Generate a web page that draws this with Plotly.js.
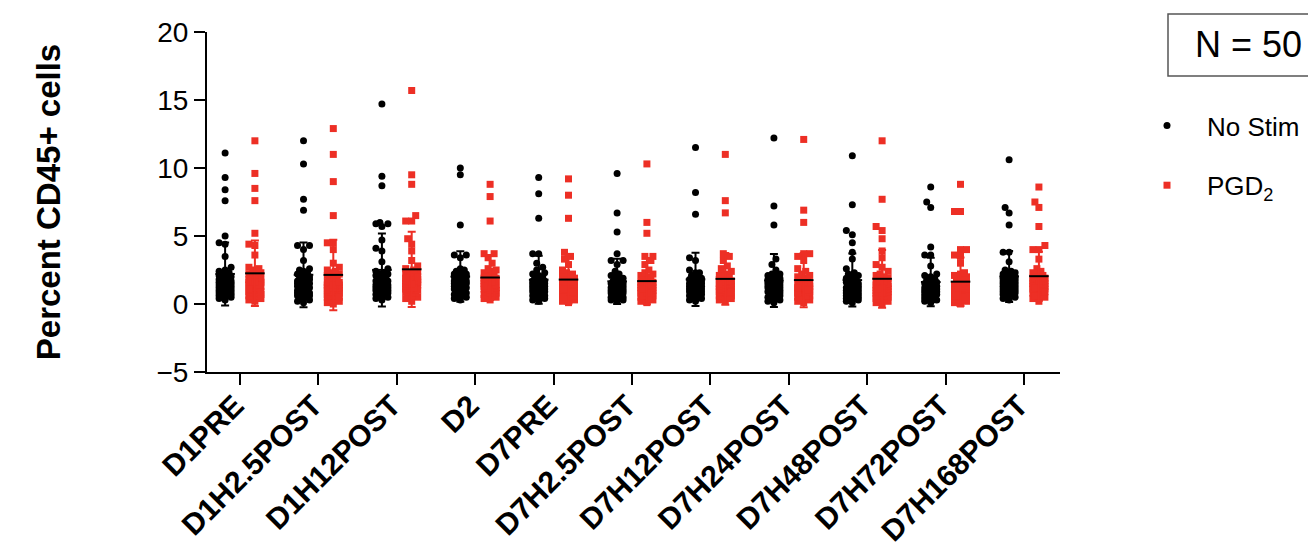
<!DOCTYPE html>
<html>
<head>
<meta charset="utf-8">
<script src="https://cdn.plot.ly/plotly-3.0.1.min.js"></script>
<style>html,body{margin:0;padding:0;background:#fff;}#chart{width:1308px;height:545px;}</style>
</head>
<body>
<div id="chart"></div>
<script>
// ---- categories ----
const categories = ['D1PRE','D1H2.5POST','D1H12POST','D2','D7PRE','D7H2.5POST','D7H12POST','D7H24POST','D7H48POST','D7H72POST','D7H168POST'];
const yTickVals = [-5, 0, 5, 10, 15, 20];

// ---- No Stim values (percent CD45+ cells), one array per time point ----
const noStim_D1PRE      = [11.1,9.3,8.4,7.6,5.0,4.5,4.4,3.5,2.7,0.3,0.4,0.5,0.5,0.6,0.7,0.7,0.8,0.8,0.9,0.9,1.0,1.0,1.0,1.1,1.1,1.2,1.2,1.3,1.3,1.4,1.4,1.5,1.5,1.6,1.6,1.7,1.8,1.8,1.9,2.0,2.1,2.2,2.3,2.4,2.5,1.2,0.6,1.5,1.7,2.0];
const noStim_D1H2_5POST = [12.0,10.3,7.7,6.9,4.3,4.3,4.0,3.2,2.6,0.1,0.2,0.3,0.4,0.5,0.6,0.6,0.7,0.8,0.8,0.9,0.9,1.0,1.0,1.1,1.1,1.2,1.2,1.3,1.3,1.4,1.4,1.5,1.5,1.6,1.7,1.8,1.9,2.0,2.1,2.2,2.3,2.4,2.5,0.7,1.0,1.2,1.5,1.8,2.0,1.6];
const noStim_D1H12POST  = [14.7,9.4,8.7,6.0,5.9,5.9,5.7,4.7,4.1,3.9,3.1,2.6,0.3,0.4,0.5,0.6,0.6,0.7,0.8,0.9,0.9,1.0,1.0,1.1,1.1,1.2,1.2,1.3,1.3,1.4,1.4,1.5,1.5,1.6,1.6,1.7,1.7,1.8,1.9,2.0,2.1,2.2,2.3,2.4,0.8,1.0,1.2,1.5,1.9,2.2];
const noStim_D2         = [10.0,9.5,5.8,3.6,3.6,3.4,2.6,0.3,0.4,0.5,0.6,0.7,0.8,0.9,1.0,1.0,1.1,1.1,1.2,1.2,1.3,1.3,1.4,1.4,1.5,1.5,1.6,1.6,1.7,1.7,1.8,1.8,1.9,1.9,2.0,2.0,2.1,2.1,2.2,2.3,2.4,2.5,0.6,0.9,1.2,1.5,1.8,2.0,2.2,1.4];
const noStim_D7PRE      = [9.3,8.1,6.3,3.7,3.7,3.0,2.7,2.5,0.2,0.3,0.4,0.5,0.5,0.6,0.7,0.7,0.8,0.8,0.9,0.9,1.0,1.0,1.1,1.1,1.2,1.2,1.3,1.3,1.4,1.4,1.5,1.5,1.6,1.6,1.7,1.8,1.9,2.0,2.1,2.2,2.3,0.6,0.9,1.1,1.3,1.5,1.7,1.0,1.2,1.4];
const noStim_D7H2_5POST = [9.6,6.7,5.3,3.7,3.2,3.2,2.9,0.2,0.3,0.3,0.4,0.5,0.5,0.6,0.7,0.7,0.8,0.8,0.9,0.9,1.0,1.0,1.1,1.1,1.2,1.2,1.3,1.3,1.4,1.4,1.5,1.5,1.6,1.6,1.7,1.8,1.9,2.0,2.1,2.2,2.4,0.4,0.6,0.9,1.0,1.1,1.3,1.5,0.8,1.2];
const noStim_D7H12POST  = [11.5,8.2,6.6,3.4,3.2,0.2,0.3,0.4,0.5,0.6,0.7,0.7,0.8,0.9,0.9,1.0,1.0,1.1,1.1,1.2,1.2,1.3,1.3,1.4,1.4,1.5,1.5,1.6,1.6,1.7,1.7,1.8,1.8,1.9,2.0,2.1,2.3,2.3,2.5,0.5,0.8,1.0,1.2,1.4,1.6,1.8,1.1,0.9,1.3,1.5];
const noStim_D7H24POST  = [12.2,7.2,5.8,3.3,2.9,2.5,0.1,0.2,0.3,0.4,0.5,0.6,0.7,0.7,0.8,0.9,0.9,1.0,1.0,1.1,1.1,1.2,1.2,1.3,1.3,1.4,1.4,1.5,1.5,1.6,1.6,1.7,1.8,1.8,1.9,2.0,2.1,2.1,2.2,2.2,0.4,0.6,0.8,1.0,1.2,1.4,1.6,1.0,0.9,1.5];
const noStim_D7H48POST  = [10.9,7.3,5.4,5.1,4.5,3.8,3.3,2.6,0.1,0.2,0.3,0.3,0.4,0.5,0.5,0.6,0.7,0.7,0.8,0.8,0.9,0.9,1.0,1.0,1.1,1.1,1.2,1.2,1.3,1.3,1.4,1.4,1.5,1.5,1.6,1.7,1.8,1.9,2.0,2.1,2.2,2.3,0.4,0.6,0.9,1.0,1.2,0.8,1.1,0.7];
const noStim_D7H72POST  = [8.6,7.5,7.1,4.2,3.6,3.6,2.8,0.1,0.2,0.3,0.3,0.4,0.5,0.5,0.6,0.6,0.7,0.7,0.8,0.8,0.9,0.9,1.0,1.0,1.1,1.1,1.2,1.2,1.3,1.3,1.4,1.4,1.5,1.6,1.7,1.8,1.9,2.0,2.1,2.2,0.3,0.5,0.7,0.9,1.0,1.1,1.3,0.8,0.6,1.2];
const noStim_D7H168POST = [10.6,7.1,6.7,5.8,3.8,3.8,3.1,2.5,0.3,0.4,0.5,0.6,0.7,0.8,0.8,0.9,1.0,1.0,1.1,1.1,1.2,1.2,1.3,1.3,1.4,1.4,1.5,1.5,1.6,1.6,1.7,1.7,1.8,1.8,1.9,2.0,2.1,2.2,2.3,2.4,1.5,0.7,0.9,1.1,1.3,1.5,1.7,1.9,2.0,2.2];

// ---- PGD2 values ----
const pgd2_D1PRE      = [12.0,9.6,8.5,7.6,5.2,4.4,4.3,3.6,0.2,0.3,0.5,0.6,0.6,0.7,0.8,0.8,0.9,1.0,1.0,1.1,1.1,1.2,1.2,1.3,1.3,1.3,1.4,1.4,1.5,1.5,1.6,1.6,1.7,1.7,1.8,1.8,1.9,2.0,2.0,2.1,2.2,2.3,2.5,2.7,0.9,1.1,1.4,1.6,0.4,2.6];
const pgd2_D1H2_5POST = [12.9,11.0,9.0,6.5,4.5,4.5,4.0,3.0,2.7,0.0,0.1,0.2,0.3,0.4,0.5,0.6,0.6,0.7,0.8,0.8,0.9,0.9,1.0,1.0,1.1,1.1,1.2,1.2,1.3,1.3,1.4,1.4,1.5,1.5,1.6,1.7,1.8,1.9,2.0,2.1,2.2,2.3,2.4,0.5,0.9,1.0,1.2,1.4,1.6,2.5];
const pgd2_D1H12POST  = [15.7,9.5,8.8,6.5,6.1,6.1,4.8,4.4,3.9,3.2,2.8,0.2,0.4,0.5,0.6,0.7,0.8,0.8,0.9,1.0,1.0,1.1,1.1,1.2,1.2,1.3,1.3,1.4,1.4,1.5,1.5,1.6,1.6,1.7,1.7,1.8,1.8,1.9,2.0,2.1,2.2,2.3,2.4,2.5,2.6,1.0,1.2,1.5,1.9,2.0];
const pgd2_D2         = [8.8,7.9,6.1,3.7,3.7,3.4,3.0,0.3,0.4,0.5,0.6,0.7,0.8,0.9,0.9,1.0,1.1,1.1,1.2,1.2,1.3,1.3,1.4,1.4,1.5,1.5,1.6,1.6,1.7,1.7,1.8,1.8,1.9,1.9,2.0,2.1,2.2,2.3,2.4,2.5,2.6,0.6,0.8,1.0,1.2,1.4,1.7,2.0,1.3,1.6];
const pgd2_D7PRE      = [9.2,8.0,6.3,3.8,3.5,3.3,2.9,0.1,0.2,0.3,0.4,0.5,0.6,0.7,0.7,0.8,0.9,0.9,1.0,1.0,1.1,1.1,1.2,1.2,1.3,1.3,1.4,1.4,1.5,1.5,1.6,1.6,1.7,1.7,1.8,1.9,2.0,2.1,2.2,2.3,2.5,0.5,0.8,1.0,1.2,1.4,1.6,1.8,1.1,0.9];
const pgd2_D7H2_5POST = [10.3,6.0,5.2,3.5,3.5,3.2,2.9,0.1,0.2,0.3,0.4,0.5,0.6,0.6,0.7,0.8,0.8,0.9,0.9,1.0,1.0,1.1,1.1,1.2,1.2,1.3,1.3,1.4,1.4,1.5,1.5,1.6,1.6,1.7,1.8,1.9,2.0,2.1,2.2,2.3,2.5,0.4,0.7,0.9,1.0,1.2,1.4,0.6,0.8,1.1];
const pgd2_D7H12POST  = [11.0,7.6,6.7,3.7,3.5,3.2,0.2,0.3,0.4,0.5,0.6,0.6,0.7,0.8,0.9,0.9,1.0,1.0,1.1,1.1,1.2,1.2,1.3,1.3,1.4,1.4,1.5,1.5,1.6,1.6,1.7,1.7,1.8,1.9,2.0,2.1,2.2,2.4,2.6,2.8,0.5,0.8,1.0,1.2,1.4,1.6,1.1,0.9,1.3,1.5];
const pgd2_D7H24POST  = [12.1,6.9,6.0,3.7,3.7,3.5,3.2,0.1,0.2,0.3,0.4,0.5,0.5,0.6,0.7,0.7,0.8,0.8,0.9,0.9,1.0,1.0,1.1,1.1,1.2,1.2,1.3,1.3,1.4,1.4,1.5,1.5,1.6,1.7,1.8,1.9,2.0,2.1,2.2,2.4,2.6,0.3,0.6,0.9,1.0,1.1,1.3,0.8,1.2,1.0];
const pgd2_D7H48POST  = [12.0,7.7,5.7,5.4,4.8,3.9,3.4,2.9,2.7,0.0,0.1,0.2,0.3,0.4,0.5,0.5,0.6,0.7,0.7,0.8,0.8,0.9,0.9,1.0,1.0,1.1,1.1,1.2,1.2,1.3,1.3,1.4,1.4,1.5,1.5,1.6,1.7,1.8,1.9,2.0,2.1,2.2,2.4,0.4,0.6,0.9,1.0,1.2,0.8,1.1];
const pgd2_D7H72POST  = [8.8,6.8,6.8,4.0,4.0,3.6,3.5,3.0,0.0,0.1,0.2,0.3,0.3,0.4,0.5,0.5,0.6,0.6,0.7,0.7,0.8,0.8,0.9,0.9,1.0,1.0,1.1,1.1,1.2,1.2,1.3,1.3,1.4,1.4,1.5,1.6,1.7,1.8,2.0,2.1,2.2,2.3,0.4,0.6,0.8,1.0,0.9,0.7,1.2,0.5];
const pgd2_D7H168POST = [8.6,7.5,7.1,5.7,4.3,4.0,4.0,3.3,2.6,0.2,0.4,0.5,0.6,0.7,0.7,0.8,0.9,1.0,1.0,1.1,1.1,1.2,1.2,1.3,1.3,1.4,1.4,1.5,1.5,1.6,1.6,1.7,1.7,1.8,1.8,1.9,2.0,2.1,2.2,2.3,2.4,0.6,0.9,1.1,1.3,1.5,1.7,1.9,1.2,2.0];

const noStimGroups = [noStim_D1PRE,noStim_D1H2_5POST,noStim_D1H12POST,noStim_D2,noStim_D7PRE,noStim_D7H2_5POST,noStim_D7H12POST,noStim_D7H24POST,noStim_D7H48POST,noStim_D7H72POST,noStim_D7H168POST];
const pgd2Groups   = [pgd2_D1PRE,pgd2_D1H2_5POST,pgd2_D1H12POST,pgd2_D2,pgd2_D7PRE,pgd2_D7H2_5POST,pgd2_D7H12POST,pgd2_D7H24POST,pgd2_D7H48POST,pgd2_D7H72POST,pgd2_D7H168POST];

// ---- layout geometry ----
const W = 1308, H = 545;
const M = {l: 207, r: 248, t: 32, b: 173};
const xRange = [-0.421, 10.459];
const yRange = [-5, 20];
const PW = W - M.l - M.r, PH = H - M.t - M.b;
const pxPerX = PW / (xRange[1] - xRange[0]);
const pxPerY = PH / (yRange[1] - yRange[0]);
const groupOffset = 0.19;
const BLACK = '#000000';
const RED = '#ed2f25';
const px2paperX = p => (p - M.l) / PW;
const px2paperY = p => (M.t + PH - p) / PH;

function mean(a){ return a.reduce((s,v)=>s+v,0)/a.length; }
function sd(a){ const m = mean(a); return Math.sqrt(a.reduce((s,v)=>s+(v-m)*(v-m),0)/(a.length-1)); }

// deterministic beeswarm offsets (in x data units), computed from the values
function swarm(vals, diam, step, maxOff){
  const order = vals.map((v,i)=>i).sort((a,b)=>vals[a]-vals[b]);
  const cands = [0];
  for (let k=1; k*step<=maxOff+1e-9; k++) cands.push(-k*step, k*step);
  const placed = [];
  const off = new Array(vals.length);
  for (const i of order){
    const y = vals[i]*pxPerY;
    let best = 0, bestScore = -1;
    for (const c of cands){
      let minD = Infinity;
      for (const p of placed){ const d = Math.hypot(p.x-c, p.y-y); if (d<minD) minD=d; }
      if (minD >= diam){ best = c; bestScore = Infinity; break; }
      if (minD > bestScore){ bestScore = minD; best = c; }
    }
    placed.push({x:best, y:y});
    off[i] = best / pxPerX;
  }
  return off;
}

function pointsTrace(groups, sign, name, color, symbol){
  const xs = [], ys = [];
  groups.forEach((g, gi) => {
    const off = swarm(g, 6.5, 2, 7);
    g.forEach((v, k) => { xs.push(gi + sign*groupOffset + off[k]); ys.push(v); });
  });
  return {
    type: 'scatter', mode: 'markers', x: xs, y: ys, name: name,
    legendgroup: name,
    marker: {color: color, size: 7, symbol: symbol, line: {width: 0}},
    hoverinfo: 'y'
  };
}

function meanTrace(groups, sign, color){
  return {
    type: 'scatter', mode: 'markers',
    x: groups.map((g, gi) => gi + sign*groupOffset),
    y: groups.map(mean),
    showlegend: false,
    marker: {symbol: 'line-ew', size: 14, color: BLACK, line: {color: BLACK, width: 2}},
    error_y: {type: 'data', array: groups.map(sd), visible: true, color: color, thickness: 2, width: 4},
    hoverinfo: 'y'
  };
}

const data = [
  pointsTrace(noStimGroups, -1, 'No Stim', BLACK, 'circle'),
  pointsTrace(pgd2Groups, 1, 'PGD<sub>2</sub>', RED, 'square'),
  meanTrace(noStimGroups, -1, BLACK),
  meanTrace(pgd2Groups, 1, RED)
];

const FONT = 'Liberation Sans, Arial, Helvetica, sans-serif';

const layout = {
  width: W, height: H,
  margin: M,
  paper_bgcolor: '#ffffff', plot_bgcolor: '#ffffff',
  font: {family: FONT, color: '#000', size: 28},
  showlegend: true,
  legend: {
    xref: 'container', yref: 'container',
    x: 1127 / W, xanchor: 'left',
    y: 1 - 102 / H, yanchor: 'top',
    font: {family: FONT, size: 26, color: '#000'},
    itemwidth: 70, traceorder: 'grouped', tracegroupgap: 23,
    bgcolor: 'rgba(0,0,0,0)'
  },
  xaxis: {
    range: xRange, tickmode: 'array', tickvals: categories.map((c,i)=>i), ticktext: categories,
    tickangle: -45, tickfont: {family: FONT, size: 30, weight: 'bold', color: '#000'},
    ticklabelstandoff: -9, ticklabelshift: -5,
    showline: true, linecolor: '#000', linewidth: 2, ticks: 'outside', ticklen: 11, tickwidth: 2, tickcolor: '#000',
    showgrid: false, zeroline: false, fixedrange: true, automargin: false
  },
  yaxis: {
    range: yRange, tickmode: 'array', tickvals: yTickVals,
    tickfont: {family: FONT, size: 28, color: '#000'},
    showline: true, linecolor: '#000', linewidth: 2, ticks: 'outside', ticklen: 11, tickwidth: 2, tickcolor: '#000',
    showgrid: false, zeroline: false, fixedrange: true, automargin: false,
    title: {text: 'Percent CD45+ cells', font: {family: FONT, size: 33, weight: 'bold', color: '#000'}, standoff: 86}
  },
  shapes: [{
    type: 'rect', xref: 'paper', yref: 'paper',
    x0: px2paperX(1168), x1: px2paperX(1330), y0: px2paperY(76), y1: px2paperY(14),
    line: {color: '#555', width: 1.5}, fillcolor: 'rgba(0,0,0,0)', layer: 'above'
  }],
  annotations: [{
    xref: 'paper', yref: 'paper',
    x: px2paperX(1248.5), xanchor: 'center',
    y: px2paperY(45), yanchor: 'middle',
    text: 'N = 50', showarrow: false,
    font: {family: FONT, size: 36, color: '#000'}
  }]
};

Plotly.newPlot('chart', data, layout, {displayModeBar: false, staticPlot: true});
</script>
</body>
</html>
